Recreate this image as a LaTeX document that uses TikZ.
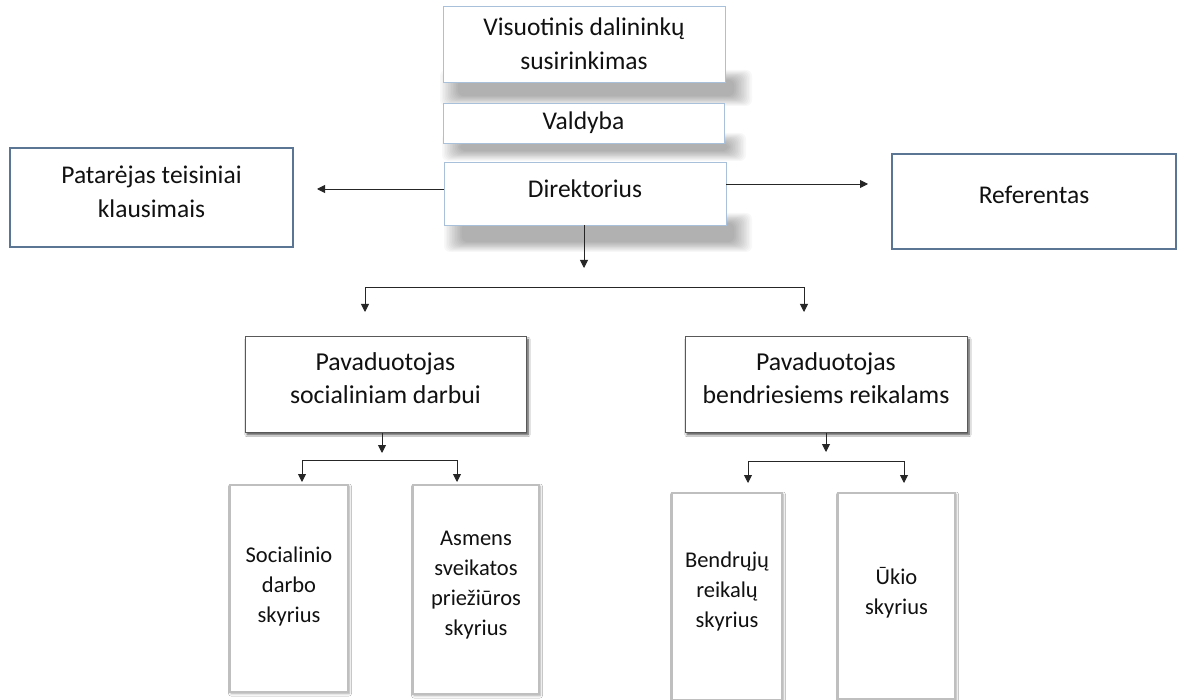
\documentclass[tikz,border=0pt]{standalone}
\usepackage{fontspec}
\setmainfont{Carlito}
\usetikzlibrary{arrows.meta,shadows.blur}
\definecolor{topedge}{HTML}{A8C0DA}
\definecolor{sideedge}{HTML}{5B7594}
\definecolor{lineclr}{HTML}{262626}
\definecolor{txt}{HTML}{111111}
\tikzset{
  bigtext/.style={font=\fontsize{25.5}{34}\selectfont, text=txt, align=center, inner sep=0pt},
  pavtext/.style={font=\fontsize{25.8}{33}\selectfont, text=txt, align=center, inner sep=0pt},
  unittext/.style={font=\fontsize{22.5}{30}\selectfont, text=txt, align=center, inner sep=0pt},
  topbox/.style={draw=topedge, line width=0.9pt, fill=white, inner sep=0pt},
  sidebox/.style={draw=sideedge, line width=1.4pt, fill=white, inner sep=0pt},
  pavbox/.style={draw=black!65, line width=1pt, fill=white, inner sep=0pt,
    blur shadow={shadow xshift=2pt, shadow yshift=-2.5pt, shadow blur radius=2.2pt,
      shadow opacity=75, shadow blur steps=6}},
  unitbox/.style={draw=black!25, line width=1.2pt, fill=white, inner sep=0pt,
    blur shadow={shadow xshift=1pt, shadow yshift=-1.5pt, shadow blur radius=2.5pt,
      shadow opacity=35, shadow blur steps=6}},
  arr/.style={draw=lineclr, line width=0.9pt, -{Triangle[length=8pt,width=8pt]}},
  twoarr/.style={draw=lineclr, line width=0.9pt,
    {Triangle[length=8pt,width=8pt]}-{Triangle[length=8pt,width=8pt]}},
  fuzz/.style={fill=black, opacity=0.028, rounded corners=6pt},
}
% soft shadow band: #1 left x, #2 top y, #3 right x, #4 bottom y
\newcommand{\softband}[4]{%
  \foreach \k in {0,...,11}{%
    \fill[fuzz] (#1+1.6*\k,#2+0.9*\k) rectangle (#3-1.6*\k,#4-0.9*\k);}}
\begin{document}
\begin{tikzpicture}[x=1pt,y=-1pt]
\useasboundingbox[fill=white] (0,0) rectangle (1178,700);

% soft shadows below the top column boxes
\softband{440}{70}{752}{106}
\softband{442}{133}{746}{161}
\softband{444}{213}{752}{252}

% top column
\node[topbox, minimum width=282pt, minimum height=76pt,
  label={[bigtext]center:Visuotinis dalininkų\\susirinkimas}] (vis) at (584,44) {};
\node[topbox, minimum width=281pt, minimum height=40pt,
  label={[bigtext]center:Valdyba}] (val) at (583.5,123) {};
\node[topbox, minimum width=282pt, minimum height=63pt,
  label={[bigtext, yshift=5pt]center:Direktorius}] (dir) at (585,193.5) {};

% side boxes
\node[sidebox, minimum width=283pt, minimum height=99pt,
  label={[bigtext, yshift=6pt]center:Patarėjas teisiniai\\klausimais}] (pat) at (151.5,197.5) {};
\node[sidebox, minimum width=284pt, minimum height=95pt,
  label={[bigtext, yshift=6.5pt]center:Referentas}] (ref) at (1034,201.5) {};

% deputies
\node[pavbox, minimum width=281pt, minimum height=95pt,
  label={[pavtext, yshift=6pt]center:Pavaduotojas\\socialiniam darbui}] (ps) at (385.5,384.5) {};
\node[pavbox, minimum width=282pt, minimum height=95pt,
  label={[pavtext, yshift=6pt]center:Pavaduotojas\\bendriesiems reikalams}] (pb) at (826,384.5) {};

% units
\node[unitbox, minimum width=118pt, minimum height=207pt,
  label={[unittext, yshift=2pt]center:Socialinio\\darbo\\skyrius}] (s1) at (289,588.5) {};
\node[unitbox, minimum width=126pt, minimum height=209pt,
  label={[unittext, yshift=4.5pt]center:Asmens\\sveikatos\\priežiūros\\skyrius}] (s2) at (476,589.5) {};
\node[unitbox, minimum width=110pt, minimum height=207pt,
  label={[unittext, yshift=5pt]center:Bendrųjų\\reikalų\\skyrius}] (b1) at (727,596.5) {};
\node[unitbox, minimum width=117pt, minimum height=206pt,
  label={[unittext, yshift=3pt]center:Ūkio\\skyrius}] (b2) at (896.5,596) {};

% free ends
\coordinate (patin) at (317,189);
\coordinate (refin) at (868,184);
\coordinate (dirdown) at (584,268);
\coordinate (la) at (365,312);
\coordinate (lb) at (804,312);
\coordinate (psdown) at (382,453);
\coordinate (sa) at (302,482);
\coordinate (sb) at (457,482);
\coordinate (pbdown) at (826,452);
\coordinate (ba) at (748,483);
\coordinate (bb) at (904,483);

% connectors
\draw[arr] ([yshift=4.5pt]dir.west) -- (patin);
\draw[arr] ([yshift=9.5pt]dir.east) -- (refin);
\draw[arr] (dir.south -| dirdown) -- (dirdown);
\draw[twoarr] (la) -- ++(0,-25) -| (lb);
\draw[arr] (ps.south -| psdown) -- (psdown);
\draw[twoarr] (sa) -- ++(0,-22) -| (sb);
\draw[arr] (pb.south -| pbdown) -- (pbdown);
\draw[twoarr] (ba) -- ++(0,-22) -| (bb);
\end{tikzpicture}
\end{document}
